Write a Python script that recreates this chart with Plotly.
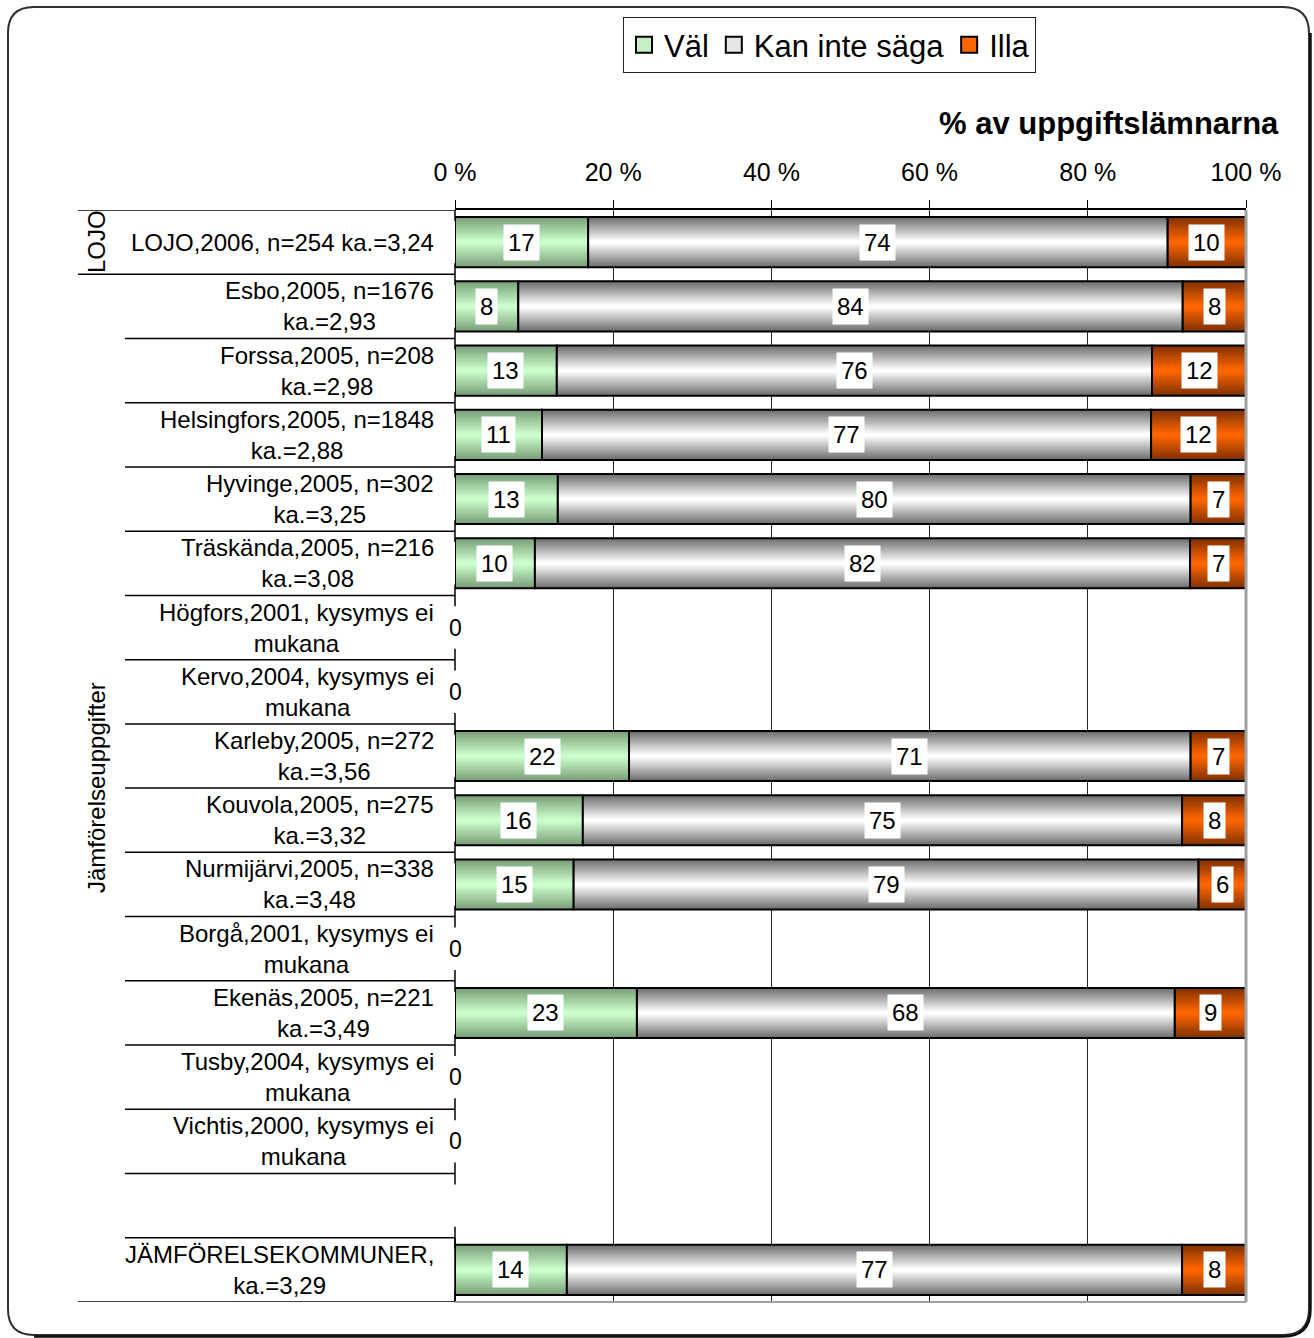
import plotly.graph_objects as go

# ---------------- data ----------------
categories = [
    "LOJO,2006, n=254 ka.=3,24",
    "Esbo,2005, n=1676<br>ka.=2,93",
    "Forssa,2005, n=208<br>ka.=2,98",
    "Helsingfors,2005, n=1848<br>ka.=2,88",
    "Hyvinge,2005, n=302<br>ka.=3,25",
    "Träskända,2005, n=216<br>ka.=3,08",
    "Högfors,2001, kysymys ei<br>mukana",
    "Kervo,2004, kysymys ei<br>mukana",
    "Karleby,2005, n=272<br>ka.=3,56",
    "Kouvola,2005, n=275<br>ka.=3,32",
    "Nurmijärvi,2005, n=338<br>ka.=3,48",
    "Borgå,2001, kysymys ei<br>mukana",
    "Ekenäs,2005, n=221<br>ka.=3,49",
    "Tusby,2004, kysymys ei<br>mukana",
    "Vichtis,2000, kysymys ei<br>mukana",
    "",
    "JÄMFÖRELSEKOMMUNER,<br>ka.=3,29",
]
val_values = [17, 8, 13, 11, 13, 10, 0, 0, 22, 16, 15, 0, 23, 0, 0, None, 14]
kan_values = [74, 84, 76, 77, 80, 82, 0, 0, 71, 75, 79, 0, 68, 0, 0, None, 77]
illa_values = [10, 8, 12, 12, 7, 7, 0, 0, 7, 8, 6, 0, 9, 0, 0, None, 8]
series_names = ["Väl", "Kan inte säga", "Illa"]
tick_values = [0, 20, 40, 60, 80, 100]
tick_labels = ["0 %", "20 %", "40 %", "60 %", "80 %", "100 %"]
group_labels = ["LOJO", "Jämförelseuppgifter"]
axis_title = "% av uppgiftslämnarna"

# ---------------- geometry helpers ----------------
W, H = 1314, 1338
L, R, T, B = 455, 68, 210, 36
PW, PH = W - L - R, H - T - B
FONT = "Liberation Sans, Arial, sans-serif"


def px(x):
    return (x - L) / PW


def py(y):
    return 1 - (y - T) / PH


n = len(categories)
rows = list(range(n))
series = [val_values, kan_values, illa_values]

# normalise to 100 %
norm = []
starts = []
for s in series:
    norm.append([None] * n)
    starts.append([None] * n)
for r in rows:
    vals = [series[k][r] for k in range(3)]
    if vals[0] is None:
        continue
    tot = sum(vals)
    if tot == 0:
        continue
    acc = 0.0
    for k in range(3):
        v = vals[k] * 100.0 / tot
        norm[k][r] = v if vals[k] > 0 else None
        starts[k][r] = acc if vals[k] > 0 else None
        acc += v

dark = [(122, 160, 122), (112, 112, 112), (130, 50, 0)]
light = [(204, 255, 204), (255, 255, 255), (255, 102, 0)]
legend_col = ["#c4f0c4", "#e6e6e6", "#ff6600"]

fig = go.Figure()
BW = 0.78
NL = 14
for k in range(3):
    for j in range(NL):
        t = j / (NL - 1)
        c = tuple(int(round(dark[k][i] + (light[k][i] - dark[k][i]) * t)) for i in range(3))
        fig.add_trace(go.Bar(
            y=rows, x=norm[k], base=starts[k], orientation="h",
            width=BW * (1 - j / NL),
            marker=dict(color="rgb(%d,%d,%d)" % c, line=dict(width=0)),
            showlegend=False, hoverinfo="skip",
        ))
    fig.add_trace(go.Bar(
        y=rows, x=norm[k], base=starts[k], orientation="h", width=BW,
        marker=dict(color="rgba(0,0,0,0)", line=dict(color="black", width=2)),
        showlegend=False, hoverinfo="skip",
    ))

# legend entries
for k in range(3):
    fig.add_trace(go.Scatter(
        y=[None], x=[None], mode="markers", name=series_names[k],
        marker=dict(symbol="square", size=16, color=legend_col[k], line=dict(color="black", width=2)),
    ))

annotations = []
# data labels
for r in rows:
    vals = [series[k][r] for k in range(3)]
    if vals[0] is None:
        continue
    if sum(vals) == 0:
        annotations.append(dict(x=0, y=r, xref="x", yref="y", text="0", showarrow=False,
                                xanchor="center", yanchor="middle",
                                font=dict(size=23, color="black", family=FONT)))
        continue
    for k in range(3):
        if norm[k][r] is None:
            continue
        annotations.append(dict(
            x=starts[k][r] + norm[k][r] / 2, y=r, xref="x", yref="y",
            text=str(vals[k]), showarrow=False, bgcolor="white", borderpad=4,
            xanchor="center", yanchor="middle",
            font=dict(size=24, color="black", family=FONT)))

# category labels
for r in rows:
    if categories[r]:
        annotations.append(dict(
            x=px(436), y=r, xref="paper", yref="y", text=categories[r], showarrow=False,
            xanchor="right", yanchor="middle", align="center",
            font=dict(size=24, color="black", family=FONT)))

# group labels
annotations.append(dict(x=px(96), y=0, xref="paper", yref="y", text=group_labels[0], textangle=-90,
                        xanchor="center", yanchor="middle",
                        showarrow=False, font=dict(size=24, color="black", family=FONT)))
annotations.append(dict(x=px(96), y=py(788), xref="paper", yref="paper", text=group_labels[1], textangle=-90,
                        xanchor="center", yanchor="middle",
                        showarrow=False, font=dict(size=24, color="black", family=FONT)))

# axis title
annotations.append(dict(x=px(1281), y=py(123), xref="paper", yref="paper", text="<b>" + axis_title + "</b>",
                        showarrow=False, xanchor="right", yanchor="middle",
                        font=dict(size=31, color="black", family=FONT)))

shapes = []
# separators
for b in range(n + 1):
    yb = b - 0.5
    if b in (0, 1, n):
        x0 = px(78)
    else:
        x0 = px(125)
    shapes.append(dict(type="line", xref="paper", yref="y", x0=x0, x1=0, y0=yb, y1=yb,
                       line=dict(color="black", width=1.5)))
    shapes.append(dict(type="line", xref="paper", yref="y", x0=0, x1=0, y0=yb - 0.17, y1=min(yb + 0.17, n - 0.5),
                       line=dict(color="black", width=1.5)))
shapes.append(dict(type="line", xref="paper", yref="y", x0=0, x1=0, y0=n - 1.5, y1=n - 0.5,
                   line=dict(color="black", width=1.5)))
# plot border right/bottom (grey)
shapes.append(dict(type="line", xref="paper", yref="paper", x0=1, x1=1, y0=0, y1=1,
                   line=dict(color="#a0a0a0", width=3)))
shapes.append(dict(type="line", xref="paper", yref="paper", x0=0, x1=1, y0=0, y1=0,
                   line=dict(color="#a0a0a0", width=2)))

# rounded frame
fx0, fx1, fy0, fy1, rr = 8, 1309, 7, 1335, 26


def frame_path(x0, x1, y0, y1, r):
    return ("M %f,%f L %f,%f Q %f,%f %f,%f L %f,%f Q %f,%f %f,%f L %f,%f Q %f,%f %f,%f L %f,%f Q %f,%f %f,%f Z" % (
        px(x0 + r), py(y0), px(x1 - r), py(y0),
        px(x1), py(y0), px(x1), py(y0 + r),
        px(x1), py(y1 - r),
        px(x1), py(y1), px(x1 - r), py(y1),
        px(x0 + r), py(y1),
        px(x0), py(y1), px(x0), py(y1 - r),
        px(x0), py(y0 + r),
        px(x0), py(y0), px(x0 + r), py(y0)))


shapes.append(dict(type="path", xref="paper", yref="paper", path=frame_path(fx0, fx1, fy0, fy1, rr),
                   line=dict(color="#303030", width=2)))
shadow = ("M %f,%f L %f,%f Q %f,%f %f,%f L %f,%f" % (
    px(fx1 + 1.5), py(fy0 + rr), px(fx1 + 1.5), py(fy1 - rr),
    px(fx1 + 1.5), py(fy1 + 1.5), px(fx1 - rr), py(fy1 + 1.5),
    px(fx0 + rr), py(fy1 + 1.5)))
shapes.append(dict(type="path", xref="paper", yref="paper", path=shadow,
                   line=dict(color="#101010", width=2.5)))

fig.update_layout(
    width=W, height=H,
    margin=dict(l=L, r=R, t=T, b=B),
    paper_bgcolor="white", plot_bgcolor="white",
    barmode="overlay",
    font=dict(family=FONT, color="black"),
    showlegend=True,
    legend=dict(orientation="h", x=px(623), y=py(17), xanchor="left", yanchor="top",
                bordercolor="#222222", borderwidth=1, bgcolor="white",
                font=dict(size=31, family=FONT), itemwidth=30, traceorder="normal",
                itemsizing="trace"),
    xaxis=dict(range=[0, 100], side="top", tickvals=tick_values, ticktext=tick_labels,
               showgrid=True, gridcolor="#222222", gridwidth=1, zeroline=False,
               showline=True, linecolor="black", linewidth=2, ticks="outside", ticklen=8,
               tickcolor="black", tickfont=dict(size=25, family=FONT, color="black"),
               ticklabelstandoff=9, fixedrange=True),
    yaxis=dict(range=[n - 0.5, -0.5], showticklabels=False, showgrid=False, zeroline=False,
               showline=False, fixedrange=True),
    annotations=annotations,
    shapes=shapes,
)

fig.write_html("out.html")
